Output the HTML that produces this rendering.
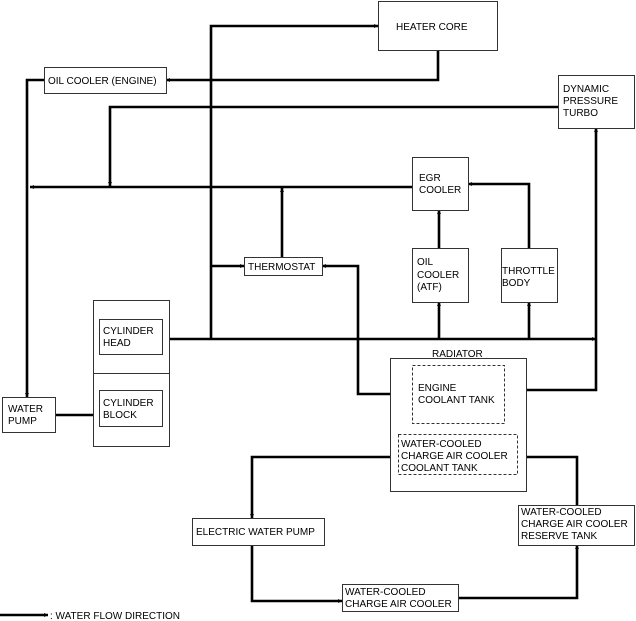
<!DOCTYPE html>
<html><head><meta charset="utf-8"><style>
html,body{margin:0;padding:0;background:#fff;}
svg{display:block;font-family:"Liberation Sans",sans-serif;font-size:10px;}
</style></head><body>
<svg width="636" height="621" viewBox="0 0 636 621" xmlns="http://www.w3.org/2000/svg">
<defs>
<marker id="a" viewBox="0 0 10 10" refX="10" refY="5" markerWidth="5" markerHeight="4" orient="auto" markerUnits="userSpaceOnUse"><path d="M0,0 L10,5 L0,10z" fill="#000"/></marker>
</defs>
<g fill="none" stroke="#000" stroke-width="2.6">
<!-- trunk -->
<polyline points="211,339 211,26 378,26" marker-end="url(#a)" style="marker-end:url(#a)"/>
<polyline points="438,50 438,80 166,80" marker-end="url(#a)"/>
<polyline points="44,80 27,80 27,397" marker-end="url(#a)"/>
<polyline points="558,107 110,107 110,186" marker-end="url(#a)"/>
<line x1="412" y1="187" x2="30" y2="187" marker-end="url(#a)"/>
<line x1="211" y1="266" x2="244" y2="266" marker-end="url(#a)"/>
<line x1="282" y1="257" x2="282" y2="188" marker-end="url(#a)"/>
<line x1="439" y1="248" x2="439" y2="210" marker-end="url(#a)"/>
<polyline points="529,248 529,184 468,184" marker-end="url(#a)"/>
<line x1="169" y1="339" x2="596" y2="339" marker-end="url(#a)"/>
<line x1="439" y1="339" x2="439" y2="302" marker-end="url(#a)"/>
<line x1="529" y1="339" x2="529" y2="302" marker-end="url(#a)"/>
<polyline points="596,339 596,390 504,390" marker-end="url(#a)"/>
<line x1="596" y1="339" x2="596" y2="128" marker-end="url(#a)"/>
<polyline points="412,394 358,394 358,266 322,266" marker-end="url(#a)"/>
<polyline points="398,457 252,457 252,518" marker-end="url(#a)"/>
<polyline points="252,545 252,601 342,601" marker-end="url(#a)"/>
<polyline points="458,598 577,598 577,545" marker-end="url(#a)"/>
<polyline points="577,505 577,457 517,457" marker-end="url(#a)"/>
<line x1="131" y1="390" x2="131" y2="354" marker-end="url(#a)"/>
<line x1="55" y1="415" x2="99" y2="415" marker-end="url(#a)"/>
<line x1="0" y1="615" x2="48" y2="615" marker-end="url(#a)"/>
</g>
<g fill="#fff" stroke="#333" stroke-width="1">
<rect x="378.5" y="1.5" width="119" height="49"/>
<rect x="44.5" y="67.5" width="122" height="26"/>
<rect x="558.5" y="75.5" width="76" height="53"/>
<rect x="412.5" y="157.5" width="56" height="53"/>
<rect x="244.5" y="257.5" width="78" height="18"/>
<rect x="412.5" y="248.5" width="56" height="54"/>
<rect x="501.5" y="248.5" width="56" height="54"/>
<rect x="93.5" y="300.5" width="76" height="146"/>
<line x1="93.5" y1="373.5" x2="169.5" y2="373.5"/>
<rect x="99.5" y="319.5" width="63" height="35"/>
<rect x="99.5" y="390.5" width="63" height="36"/>
<rect x="2.5" y="397.5" width="53" height="35"/>
<rect x="390.5" y="358.5" width="136" height="133"/>
<rect x="192.5" y="518.5" width="132" height="27"/>
<rect x="342.5" y="584.5" width="116" height="27"/>
<rect x="518.5" y="505.5" width="116" height="40"/>
</g>
<g fill="#fff" stroke="#333" stroke-width="1" stroke-dasharray="3,2">
<rect x="412.5" y="365.5" width="92" height="58"/>
<rect x="398.5" y="434.5" width="119" height="40"/>
</g>
<g fill="#000">
<text x="396" y="30">HEATER CORE</text>
<text x="48" y="84">OIL COOLER (ENGINE)</text>
<text x="563" y="92">DYNAMIC</text><text x="563" y="104">PRESSURE</text><text x="563" y="116">TURBO</text>
<text x="419" y="181">EGR</text><text x="419" y="193">COOLER</text>
<text x="248" y="270">THERMOSTAT</text>
<text x="417" y="265">OIL</text><text x="417" y="278">COOLER</text><text x="417" y="290">(ATF)</text>
<text x="502" y="274">THROTTLE</text><text x="502" y="286">BODY</text>
<text x="103" y="334">CYLINDER</text><text x="103" y="346">HEAD</text>
<text x="103" y="406">CYLINDER</text><text x="103" y="418">BLOCK</text>
<text x="8" y="412">WATER</text><text x="8" y="424">PUMP</text>
<text x="432" y="357">RADIATOR</text>
<text x="418" y="391">ENGINE</text><text x="418" y="403">COOLANT TANK</text>
<text x="401" y="447">WATER-COOLED</text><text x="401" y="459">CHARGE AIR COOLER</text><text x="401" y="471">COOLANT TANK</text>
<text x="196" y="535">ELECTRIC WATER PUMP</text>
<text x="345" y="595">WATER-COOLED</text><text x="345" y="607">CHARGE AIR COOLER</text>
<text x="521" y="515">WATER-COOLED</text><text x="521" y="527">CHARGE AIR COOLER</text><text x="521" y="539">RESERVE TANK</text>
<text x="50" y="619">: WATER FLOW DIRECTION</text>
</g>
</svg>
</body></html>
